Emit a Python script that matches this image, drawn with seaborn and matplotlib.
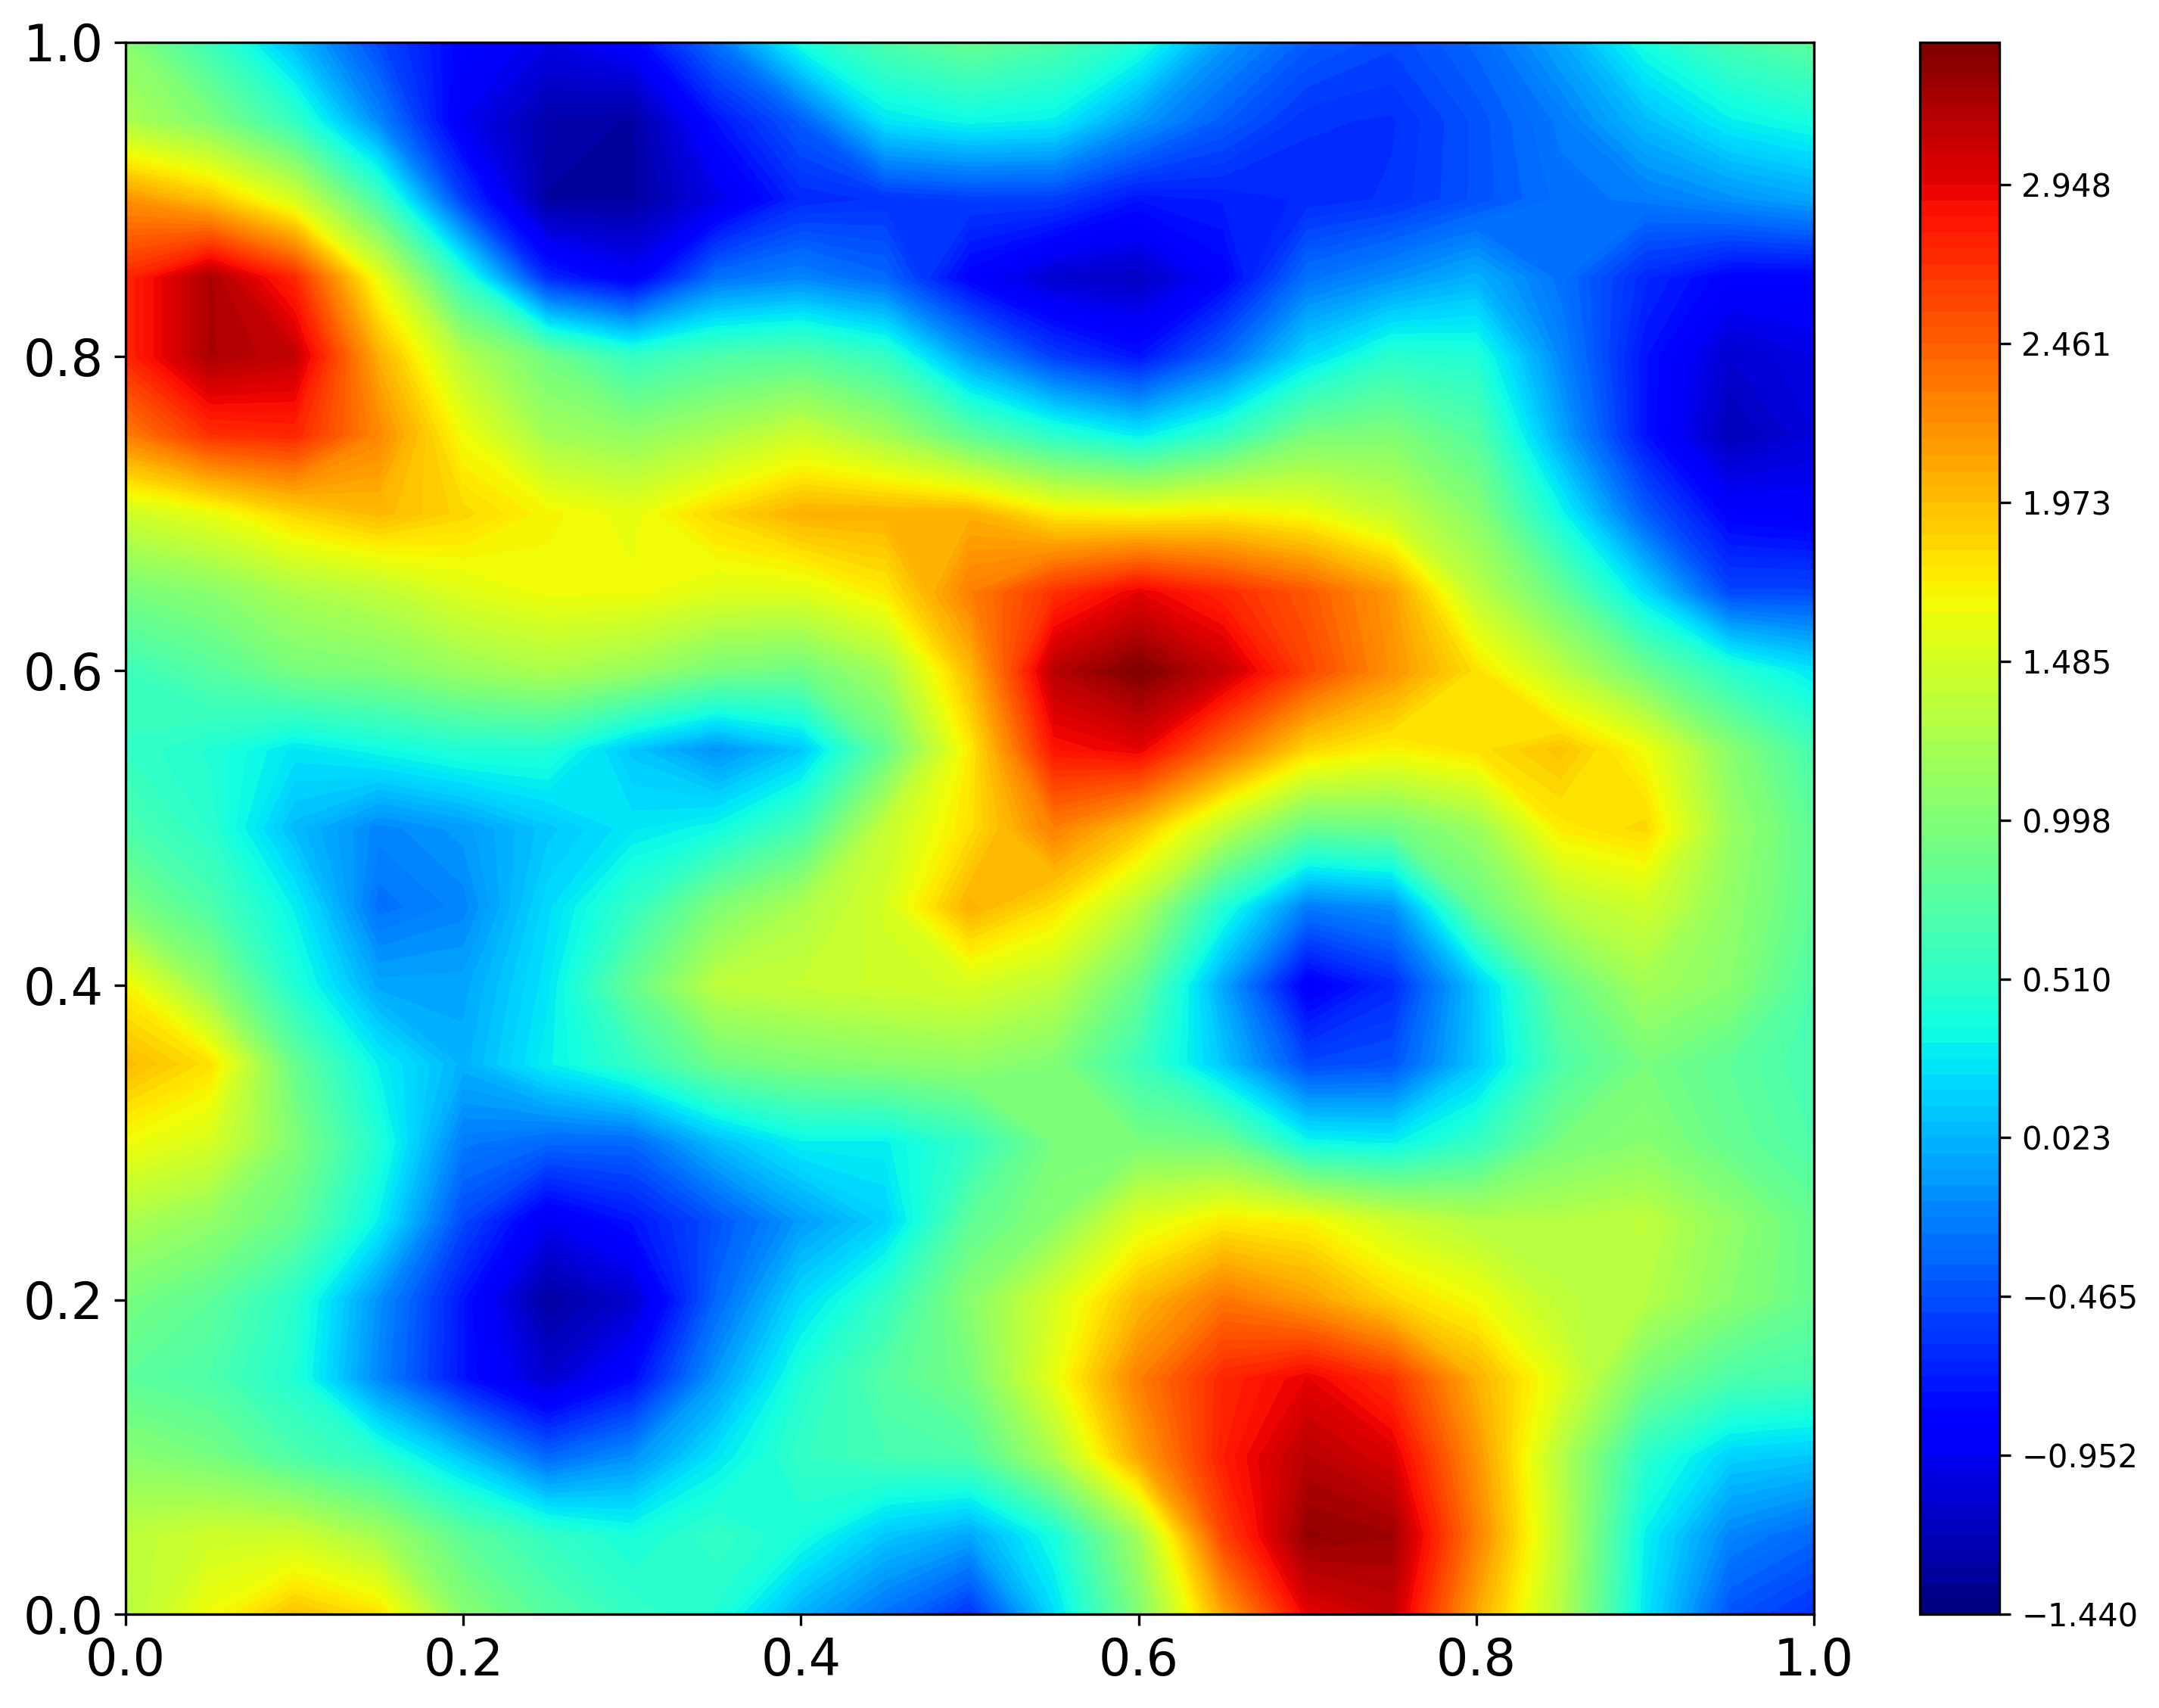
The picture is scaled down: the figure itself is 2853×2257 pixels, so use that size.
import numpy as np
import matplotlib
matplotlib.use("Agg")
import matplotlib.pyplot as plt
from matplotlib.ticker import FuncFormatter
import seaborn as sns

# field values, one row per y, every 0.05 in x
x_vals = [i / 20 for i in range(21)]
y_vals = [1.0, 0.95, 0.9, 0.85, 0.8, 0.75, 0.7, 0.65, 0.6, 0.55, 0.5,
          0.45, 0.4, 0.35, 0.3, 0.25, 0.2, 0.15, 0.1, 0.05, 0.0]

row_100 = [1.05, .6, .05, -.5, -.85, -1.0, -.85, -.3, .4, .7, .85, .7, .45, -.1, -.4, -.5, -.35, -.05, .4, .65, .8]
row_095 = [1.25, 1.0, .55, -.2, -.95, -1.25, -1.3, -.75, -.4, .25, .35, .3, -.1, -.4, -.6, -.62, -.45, -.25, .05, .3, .4]
row_090 = [2.2, 1.95, 1.5, .65, -.55, -1.3, -1.3, -1.0, -.65, -.6, -.55, -.55, -.75, -.7, -.65, -.6, -.45, -.3, -.25, -.15, -.05]
row_085 = [2.75, 3.2, 2.75, 1.6, .5, -.65, -.9, -.3, -.2, -.35, -.85, -1.1, -1.15, -.85, -.3, -.15, 0.0, -.3, -.65, -.85, -.85]
row_080 = [2.75, 3.2, 3.1, 2.05, 1.3, .9, .55, .7, .75, .55, -.1, -.55, -.75, -.35, .2, .5, .45, -.2, -.75, -1.1, -1.0]
row_075 = [2.3, 2.7, 2.75, 2.25, 1.65, 1.2, 1.1, 1.25, 1.45, 1.2, .8, .5, .28, .55, .95, 1.0, .75, -.05, -.75, -1.2, -1.05]
row_070 = [1.45, 1.6, 1.85, 2.0, 1.85, 1.7, 1.6, 1.85, 2.05, 2.05, 2.05, 1.75, 1.7, 1.75, 1.65, 1.4, 1.05, .35, -.4, -.85, -.9]
row_065 = [.95, 1.05, 1.25, 1.35, 1.55, 1.65, 1.65, 1.55, 1.55, 1.75, 2.3, 2.7, 2.95, 2.75, 2.5, 2.15, 1.35, .85, .2, -.5, -.5]
row_060 = [.6, .75, .95, 1.0, 1.15, 1.25, 1.15, .95, .9, 1.2, 2.0, 3.15, 3.38, 3.1, 2.6, 2.2, 1.8, 1.35, .9, .5, .25]
row_055 = [.55, .45, .25, .35, .45, .45, .1, -.15, .1, .85, 1.75, 2.85, 2.95, 2.4, 1.85, 1.7, 1.8, 1.95, 1.65, 1.05, .65]
row_050 = [.7, .5, .05, -.2, -.1, .1, .25, .35, .65, 1.4, 1.8, 2.3, 1.95, 1.35, .85, .9, 1.15, 1.75, 1.85, 1.15, .8]
row_045 = [1.0, .7, .3, -.3, -.2, .2, .55, 1.0, 1.25, 1.5, 2.05, 1.8, 1.3, .45, -.25, -.15, .85, 1.3, 1.45, 1.1, .8]
row_040 = [1.7, 1.1, .45, -.05, -.05, .25, .85, 1.35, 1.4, 1.45, 1.5, 1.35, .85, -.05, -.9, -.65, .1, .85, 1.2, 1.05, .7]
row_035 = [2.0, 1.8, .85, .3, 0.0, .3, .55, .9, 1.0, 1.05, 1.1, 1.0, .6, .1, -.5, -.45, .1, .7, .95, .8, .65]
row_030 = [1.65, 1.5, 1.0, .45, -.25, -.35, -.35, .05, .3, .3, .55, .95, .95, .9, .35, .3, .55, .95, 1.05, .85, .7]
row_025 = [1.25, 1.1, .85, .3, -.5, -.95, -.75, -.45, -.1, .15, .8, 1.05, 1.55, 1.75, 1.7, 1.45, 1.3, 1.3, 1.35, 1.1, .85]
row_020 = [.95, .8, .5, -.15, -.75, -1.3, -1.1, -.35, .2, .55, 1.05, 1.5, 2.0, 2.35, 2.15, 1.85, 1.65, 1.35, 1.3, 1.05, .85]
row_015 = [.8, .7, .45, -.2, -.75, -1.1, -.8, -.1, .45, .75, .95, 1.6, 2.3, 2.75, 2.95, 2.7, 2.05, 1.55, .95, .7, .65]
row_010 = [1.05, .95, .7, .5, .1, -.35, -.15, .25, .55, .65, .7, 1.25, 2.1, 2.8, 3.15, 3.0, 2.2, 1.3, .5, .15, .1]
row_005 = [1.35, 1.45, 1.45, 1.2, .8, .55, .4, .55, .4, .1, -.05, .4, 1.2, 2.6, 3.3, 3.25, 2.3, 1.35, .3, -.2, -.35]
row_000 = [1.3, 1.65, 1.95, 1.8, 1.05, .75, .55, .45, 0.0, -.3, -.6, .2, 1.0, 2.1, 2.95, 3.1, 2.1, 1.3, .25, -.45, -.6]

z_rows = [row_100, row_095, row_090, row_085, row_080, row_075, row_070,
          row_065, row_060, row_055, row_050, row_045, row_040, row_035,
          row_030, row_025, row_020, row_015, row_010, row_005, row_000]

z_min = -1.44
z_max = 3.387
n_levels = 100

sns.set_theme(style="ticks", rc={"axes.edgecolor": "black", "xtick.color": "black",
                                 "ytick.color": "black", "axes.linewidth": 0.8,
                                 "xtick.major.size": 3.5, "ytick.major.size": 3.5,
                                 "xtick.major.width": 0.8, "ytick.major.width": 0.8})
plt.rcParams["font.family"] = ["DejaVu Sans"]

W, H = 2853, 2257
fig = plt.figure(figsize=(W / 300, H / 300), dpi=300)
ax = fig.add_axes([166 / W, 1 - 2133 / H, (2397 - 166) / W, (2133 - 55.5) / H])
cax = fig.add_axes([2537 / W, 1 - 2133 / H, (2642 - 2537) / W, (2133 - 55.5) / H])

levels = np.linspace(z_min, z_max, n_levels)
cs = ax.contourf(x_vals, y_vals, np.array(z_rows), levels=levels, cmap="jet")
ax.set_xlim(0, 1)
ax.set_ylim(0, 1)
ax.tick_params(labelsize=16)

cb = fig.colorbar(cs, cax=cax, ticks=levels[::10],
                  format=FuncFormatter(lambda v, p: f"{v:.3f}".replace("-", "\u2212")))
cb.ax.tick_params(labelsize=10)

fig.savefig("out.png", dpi=300)
